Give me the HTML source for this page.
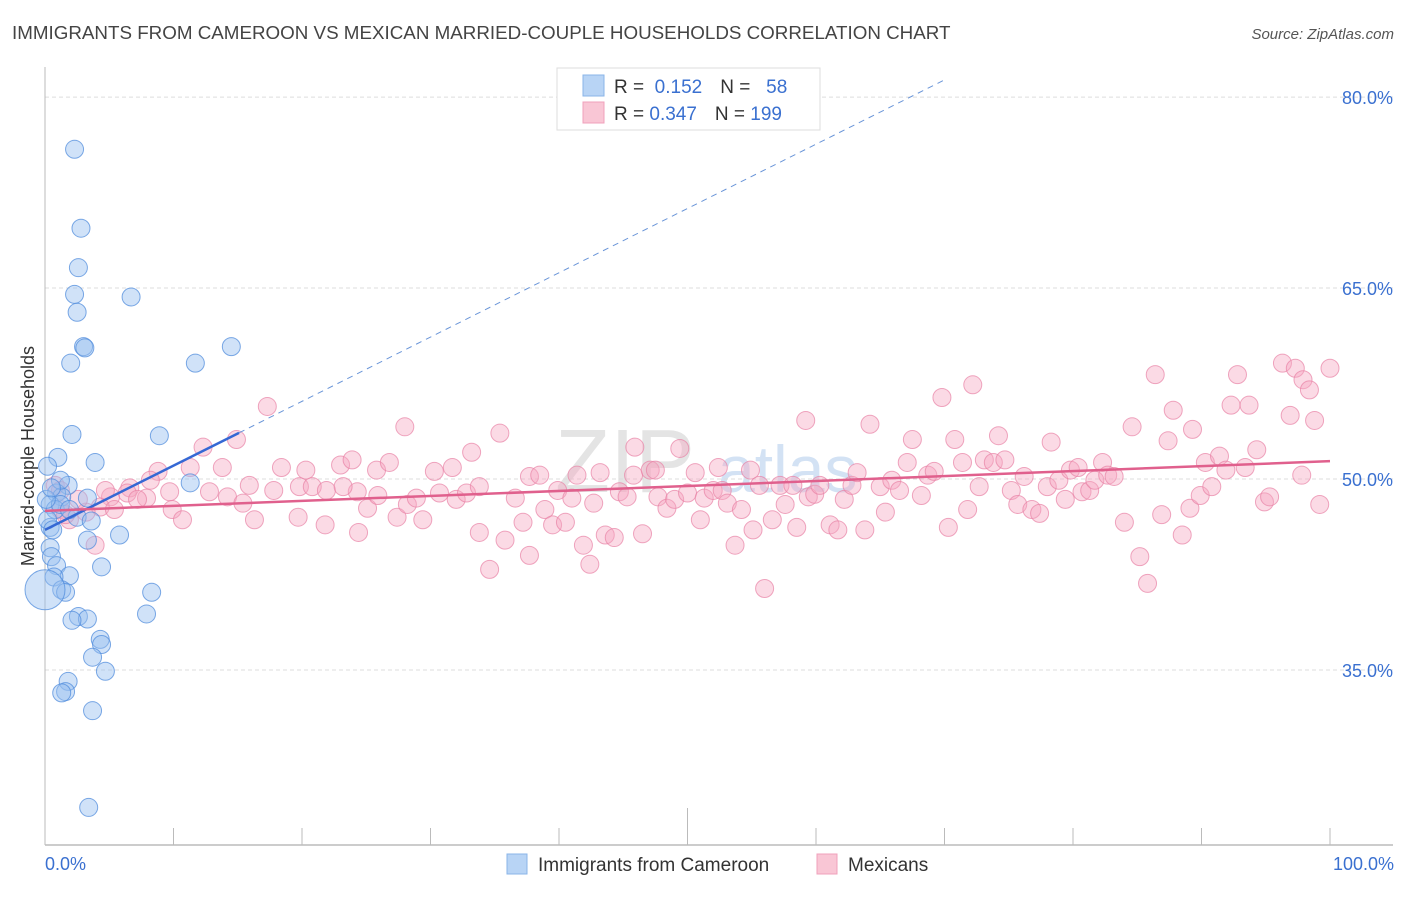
<!DOCTYPE html>
<html><head><meta charset="utf-8"><style>
body{margin:0;background:#fff;font-family:"Liberation Sans",sans-serif}
svg text{font-family:"Liberation Sans",sans-serif}
</style></head><body>
<svg id="chart" width="1406" height="892" viewBox="0 0 1406 892" xmlns="http://www.w3.org/2000/svg">
<text x="12" y="39" font-size="18.8" fill="#444">IMMIGRANTS FROM CAMEROON VS MEXICAN MARRIED-COUPLE HOUSEHOLDS CORRELATION CHART</text>
<text x="1394" y="39" font-size="15" fill="#555" text-anchor="end" font-style="italic">Source: ZipAtlas.com</text>
<g>
<text x="555" y="492" font-size="90" font-family="Liberation Serif,serif" fill="#e4e4e4">ZIP</text>
<text x="718" y="492" font-size="66" fill="#d3e2f4">atlas</text>
</g>
<g id="grid"></g>
<g id="axes"></g>
<g id="pts"></g>
<g id="lines"></g>
<text transform="translate(34,456) rotate(-90)" font-size="18" fill="#333" text-anchor="middle">Married-couple Households</text>
<g>
<rect x="557" y="68" width="263" height="62" fill="#fff" stroke="#ddd"/>
<rect x="583" y="75" width="21" height="21" fill="#b8d4f5" stroke="#8ab4e8"/>
<rect x="583" y="102" width="21" height="21" fill="#f9c6d5" stroke="#f0a0bb"/>
<text x="614" y="93" font-size="19" fill="#333">R = <tspan fill="#3a70d0">&#160;0.152</tspan><tspan dx="18">N = </tspan><tspan fill="#3a70d0">&#160;&#160;58</tspan></text>
<text x="614" y="120" font-size="19" fill="#333">R = <tspan fill="#3a70d0">0.347</tspan><tspan dx="18">N = </tspan><tspan fill="#3a70d0">199</tspan></text>
</g>
<g>
<rect x="507" y="854" width="20" height="20" fill="#b8d4f5" stroke="#8ab4e8"/>
<text x="538" y="871" font-size="19" fill="#333">Immigrants from Cameroon</text>
<rect x="817" y="854" width="20" height="20" fill="#f9c6d5" stroke="#f0a0bb"/>
<text x="848" y="871" font-size="19" fill="#333">Mexicans</text>
</g>
</svg>
<script>
const yTicks=[35,50,65,80];
const yTickLabels=["35.0%","50.0%","65.0%","80.0%"];
const xTickLabels=["0.0%","100.0%"];
const blueX=[2.3,2.8,2.6,2.3,2.5,6.7,3.0,3.1,14.5,11.7,2.0,2.1,8.9,1.0,3.9,0.2,1.8,0.9,1.3,3.3,0.4,0.8,2.5,3.6,0.4,5.8,3.3,0.4,0.5,0.9,4.4,1.9,0.7,1.3,1.6,8.3,7.9,2.6,3.3,2.1,4.3,4.4,3.7,1.8,1.6,1.3,4.7,3.7,3.4,0,0.2,0.6,1.2,1.9,11.3,1.2,0.1,0.5];
const blueY=[75.9,69.7,66.6,64.5,63.1,64.3,60.4,60.3,60.4,59.1,59.1,53.5,53.4,51.7,51.3,51.0,49.5,48.9,48.6,48.5,48.0,47.6,47.0,46.7,46.2,45.6,45.2,44.6,43.9,43.2,43.1,42.4,42.3,41.3,41.1,41.1,39.4,39.2,39.0,38.9,37.4,37.0,36.0,34.1,33.3,33.2,34.9,31.8,24.2,41.3,46.8,46.0,48.0,47.6,49.7,49.9,48.4,49.3];
const blueSize=blueX.map((v,i)=>i===49?20:9);
const pinkX=[17.3,14.9,12.3,8.8,11.3,13.8,6.6,6.4,5.1,4.3,3.2,2.6,1.2,0.8,1.9,3.9,5.4,7.9,9.7,9.9,12.8,14.2,15.4,15.9,16.3,17.8,18.4,19.8,19.7,20.3,20.8,21.8,21.9,23.0,23.9,24.3,23.2,24.4,25.1,25.8,26.8,25.9,27.4,28.0,28.2,28.9,29.4,30.3,30.7,31.7,32.0,32.8,33.2,33.8,33.8,34.6,35.4,35.8,36.6,37.2,37.7,37.7,38.5,38.9,39.5,39.9,40.5,41.0,41.4,41.9,42.4,42.7,43.2,43.6,44.3,44.7,45.3,45.9,45.8,46.5,47.1,47.5,47.7,48.4,49.0,49.4,50.0,50.6,51.0,51.3,52.0,52.4,52.7,53.1,53.7,54.2,54.9,55.1,55.6,56.0,56.6,57.2,57.6,58.2,58.5,59.2,59.4,59.9,60.3,61.1,61.7,62.2,62.8,63.2,63.8,64.2,65.0,65.4,65.9,66.5,67.1,67.5,68.2,68.7,69.2,69.8,70.3,70.8,71.4,71.8,72.2,72.7,73.1,73.8,74.2,74.7,75.2,75.7,76.2,76.8,77.4,78.0,78.3,78.9,79.4,79.8,80.4,80.7,81.3,81.7,82.3,82.7,83.2,84.0,84.6,85.2,85.8,86.4,86.9,87.4,87.8,88.5,89.1,89.3,89.9,90.3,90.8,91.4,91.9,92.3,92.8,93.4,93.7,94.3,94.9,95.3,96.3,96.9,97.3,97.9,98.4,98.8,99.2,97.8,100,1.2,1.6,4.7,8.2,10.7,7.2];
const pinkY=[55.7,53.1,52.5,50.6,50.9,50.9,49.3,48.9,48.6,47.8,47.4,48.4,47.6,49.5,46.8,44.8,47.6,48.5,49.0,47.6,49.0,48.6,48.1,49.5,46.8,49.1,50.9,49.4,47.0,50.7,49.4,46.4,49.1,51.1,51.5,49.0,49.4,45.8,47.7,50.7,51.3,48.7,47.0,54.1,48.0,48.5,46.8,50.6,48.9,50.9,48.4,48.9,52.1,49.4,45.8,42.9,53.6,45.2,48.5,46.6,50.2,44.0,50.3,47.6,46.4,49.1,46.6,48.5,50.3,44.8,43.3,48.1,50.5,45.6,45.4,49.0,48.6,52.5,50.3,45.7,50.7,50.7,48.6,47.7,48.4,52.4,48.9,50.5,46.8,48.5,49.1,50.9,49.1,48.1,44.8,47.6,50.7,46.0,49.5,41.4,46.8,49.5,48.0,49.5,46.2,54.6,48.6,48.8,49.5,46.4,46.0,48.4,49.5,50.5,46.0,54.3,49.4,47.4,49.9,49.1,51.3,53.1,48.7,50.3,50.6,56.4,46.2,53.1,51.3,47.6,57.4,49.4,51.5,51.3,53.4,51.5,49.1,48.0,50.2,47.6,47.3,49.4,52.9,49.9,48.4,50.7,50.9,49.0,49.1,49.9,51.3,50.3,50.2,46.6,54.1,43.9,41.8,58.2,47.2,53.0,55.4,45.6,47.7,53.9,48.7,51.3,49.4,51.8,50.7,55.8,58.2,50.9,55.8,52.3,48.2,48.6,59.1,55.0,58.7,57.8,57.0,54.6,48.0,50.3,58.7,49.1,47.2,49.1,49.9,46.8,48.4];
const blueTrend=[46.0,0.505];   // intercept, slope
const pinkTrend=[47.5,0.039];
const blueSolidEnd=15.1;

const NS="http://www.w3.org/2000/svg";
const X0=45,X1=1330,Y50=479,PX=12.73;
const sx=v=>X0+(X1-X0)*v/100;
const sy=v=>Y50-(v-50)*PX;
function mk(tag,attrs,parent){const e=document.createElementNS(NS,tag);for(const k in attrs)e.setAttribute(k,attrs[k]);parent.appendChild(e);return e;}
const grid=document.getElementById('grid'),axes=document.getElementById('axes'),pts=document.getElementById('pts'),lines=document.getElementById('lines');
yTicks.forEach((t,i)=>{
  const l=mk('line',{x1:X0,x2:1393,y1:sy(t),y2:sy(t),stroke:'#ddd','stroke-dasharray':'4,3'},grid);
  
  
  const tx=mk('text',{x:1393,y:sy(t)+7,'font-size':18,fill:'#3a70d0','text-anchor':'end'},axes);
  tx.textContent=yTickLabels[i];
  
  
});
const ya=mk('line',{x1:X0,x2:X0,y1:67,y2:845,stroke:'#bbb'},axes);


const xa=mk('line',{x1:X0,x2:1393,y1:845,y2:845,stroke:'#bbb','stroke-width':1.5},axes);


for(let i=0;i<=10;i++){
  const tk=mk('line',{x1:sx(i*10),x2:sx(i*10),y1:i===5?808:828,y2:845,stroke:'#bbb'},axes);
  
  
}
[[0,'start',45],[100,'end',1394]].forEach((a,i)=>{
  const t=mk('text',{x:a[2],y:870,'font-size':18,fill:'#3a70d0','text-anchor':a[1]},axes);
  t.textContent=xTickLabels[i];
  
  
});
pinkX.forEach((x,i)=>{
  const c=mk('circle',{cx:sx(x),cy:sy(pinkY[i]),r:9,fill:'rgba(246,168,194,0.42)',stroke:'rgba(232,130,165,0.7)','stroke-width':1},pts);
  
  
});
blueX.forEach((x,i)=>{
  const c=mk('circle',{cx:sx(x),cy:sy(blueY[i]),r:blueSize[i],fill:'rgba(150,190,240,0.45)',stroke:'rgba(80,140,220,0.75)','stroke-width':1},pts);
  
  
});
const bf=x=>blueTrend[0]+blueTrend[1]*x, pf=x=>pinkTrend[0]+pinkTrend[1]*x;
const xEnd=(81.3-blueTrend[0])/blueTrend[1];
const bd=mk('line',{x1:sx(blueSolidEnd),y1:sy(bf(blueSolidEnd)),x2:sx(xEnd),y2:sy(bf(xEnd)),stroke:'#6a95d8','stroke-width':1,'stroke-dasharray':'6,5'},lines);


const bs=mk('line',{x1:sx(0),y1:sy(bf(0)),x2:sx(blueSolidEnd),y2:sy(bf(blueSolidEnd)),stroke:'#3568d4','stroke-width':2.5},lines);


const pl=mk('line',{x1:sx(0),y1:sy(pf(0)),x2:sx(100),y2:sy(pf(100)),stroke:'#e0608d','stroke-width':2.5},lines);


</script>
</body></html>
